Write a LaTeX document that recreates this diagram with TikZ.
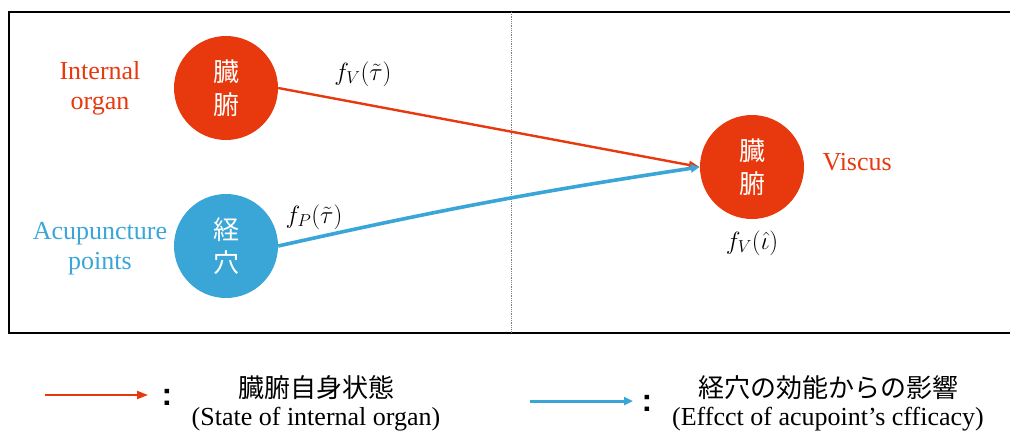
\documentclass[tikz,border=0pt]{standalone}
\usepackage{fontspec}
\setmainfont{Liberation Serif}
\newfontfamily\jpfont{Noto Sans CJK JP}
\newfontfamily\colonfont{Liberation Sans}
\usetikzlibrary{arrows.meta, positioning}
\definecolor{organred}{HTML}{E8380D}
\definecolor{pointblue}{HTML}{3AA6D8}
\newcommand{\legendkey}[8]{%
    \coordinate (#1s) at #3;%
    \coordinate (#1e) at #4;%
    \draw[#2] (#1s) -- (#1e);%
    \node[colon] (#1c) at #5 {:};%
    \node[jplabel] (#1j) at #6 {#7};%
    \node[entext, anchor=north] (#1t) at ([yshift=-2pt]#1j.south) {#8};%
}

\begin{document}
\begin{tikzpicture}[
        x=1pt,
        y=-1pt,
        organ/.style={circle, fill=organred, minimum size=104pt, inner sep=0pt,
                      font=\jpfont\fontsize{26}{33}\selectfont, text=white, align=center},
        point/.style={organ, fill=pointblue},
        side/.style={font=\fontsize{26}{30}\selectfont, align=center},
        fun/.style={font=\fontsize{25}{28}\selectfont, inner sep=1pt},
        redlink/.style={-{Triangle[length=11pt, width=8pt]}, line width=2.4pt, draw=organred},
        bluelink/.style={-{Triangle[length=9pt, width=8pt]}, line width=3.6pt, draw=pointblue},
        keyred/.style={redlink, line width=2pt},
        keyblue/.style={bluelink, line width=3pt},
        colon/.style={font=\colonfont\bfseries\fontsize{32}{32}\selectfont},
        jplabel/.style={font=\jpfont\fontsize{26}{30}\selectfont},
        entext/.style={font=\fontsize{26}{30}\selectfont, inner sep=1pt}
    ]
        \useasboundingbox (0,0) rectangle (1010,434);

        \coordinate (frametl) at (9,12);
        \coordinate (framebr) at (1014,333);
        \draw[line width=2pt] (frametl) rectangle (framebr);
        \coordinate (divtop) at (511,12);
        \coordinate (divbot) at (511,333);
        \draw[gray, line width=0.8pt, densely dotted] (divtop) -- (divbot);

        \node[organ] (zangfu) at (226,88) {臓\\腑};
        \node[point] (jingxue) at (226,246) {経\\穴};
        \node[organ] (viscus) at (752,167) {臓\\腑};

        \node[side, text=organred] (organlbl) at (100,88) {Internal\\organ};
        \node[side, text=pointblue] (pointlbl) at (100,249) {Acupuncture\\points};
        \node[side, text=organred, anchor=west] (viscuslbl) at (819,162) {Viscus};

        \node[fun] (fv) at (363,74) {$f_V(\tilde{\tau})$};
        \node[fun] (fp) at (314,217) {$f_P(\tilde{\tau})$};
        \node[fun] (fvhat) at (752,243) {$f_V(\hat{\iota})$};

        \draw[redlink] (zangfu.east) -- (viscus.west);
        \draw[bluelink] (jingxue.east) to[bend left=2] (viscus.west);

        \legendkey{kr}{keyred}{(45,395)}{(148,395)}{(167,397)}{(316,388)}{臓腑自身状態}{(State of internal organ)}
        \legendkey{kb}{keyblue}{(530,401)}{(633,401)}{(647,403)}{(828,388)}{経穴の効能からの影響}{(Effcct of acupoint’s cfficacy)}
    \end{tikzpicture}
\end{document}
